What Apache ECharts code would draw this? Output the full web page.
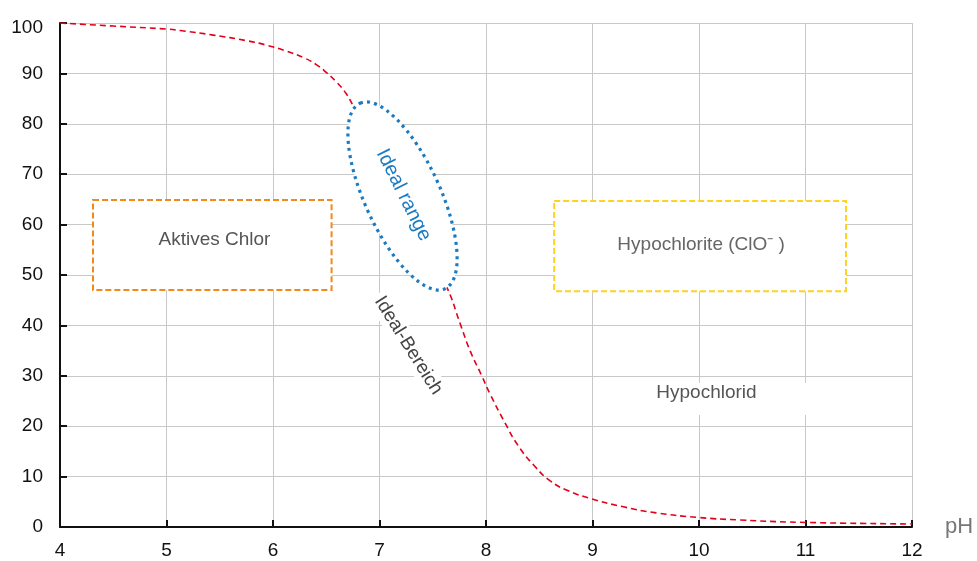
<!DOCTYPE html>
<html>
<head>
<meta charset="utf-8">
<script src="https://cdn.jsdelivr.net/npm/echarts@6/dist/echarts.min.js"></script>
<style>html,body{margin:0;padding:0;background:#fff}#c{width:977px;height:561px}</style>
</head>
<body>
<div id="c"></div>
<script>
// pH values and % of active chlorine (HOCl)
const phValues = [4, 4.5, 5, 5.13, 5.44, 5.75, 5.94, 6.13, 6.29, 6.41, 6.50, 6.60, 6.69, 6.75, 7.0, 7.3, 7.5, 7.63, 7.76, 7.85, 7.96, 8.04, 8.18, 8.30, 8.46, 8.60, 8.76, 8.99, 9.29, 9.60, 9.99, 10.38, 10.95, 12];
const hoclPercent = [100, 99.4, 98.8, 98.5, 97.6, 96.5, 95.6, 94.4, 93.1, 91.7, 90.2, 88.2, 85.9, 83.7, 75, 62, 52.5, 47.7, 40.2, 35.0, 30.0, 26.3, 20.6, 16.2, 12.0, 9.2, 7.3, 5.6, 4.0, 2.8, 1.9, 1.4, 0.93, 0.6];
const xTicks = [4, 5, 6, 7, 8, 9, 10, 11, 12];
const yTicks = [0, 10, 20, 30, 40, 50, 60, 70, 80, 90, 100];
const xAxisName = 'pH';

// Annotation texts
const boxLabels = ['Aktives Chlor', 'Hypochlorite (ClO⁻ )'];
const idealRangeLabel = 'Ideal range';
const idealBereichLabel = 'Ideal-Bereich';
const hypochloridLabel = 'Hypochlorid';

// Annotation anchors in data units [pH, %]
const boxCorners = [[4.31, 64.9, 6.55, 47.0], [8.64, 64.7, 11.38, 46.8]];
const boxTextAnchors = [[5.45, 56.9], [10.02, 55.9]];
const ellipseAxisEnds = [[6.817, 84.07], [7.615, 47.28]];
const idealBereichAnchor = [7.27, 36.0];
const hypochloridBox = [9.45, 28.6, 11.99, 22.2];
const hypochloridAnchor = [10.07, 26.6];

const chart = echarts.init(document.getElementById('c'), null, {renderer: 'canvas'});
const FONT = '"Liberation Sans", Arial, Helvetica, sans-serif';

function pairSeries() {
  return phValues.map((p, i) => [p, hoclPercent[i]]);
}

function renderAnnotations(params, api) {
  const children = [];
  const boxColors = ['#F08A1D', '#FFD21F'];
  const textColors = ['#555', '#666'];
  // Hypochlorid white background
  const h1 = api.coord([hypochloridBox[0], hypochloridBox[1]]);
  const h2 = api.coord([hypochloridBox[2], hypochloridBox[3]]);
  children.push({type: 'rect', shape: {x: h1[0], y: h1[1], width: h2[0] - h1[0], height: h2[1] - h1[1]}, style: {fill: '#fff'}});
  const ha = api.coord(hypochloridAnchor);
  children.push({type: 'text', x: ha[0], y: ha[1], style: {text: hypochloridLabel, x: 0, y: 0, align: 'center', verticalAlign: 'middle', fill: '#555', font: '19px ' + FONT}});
  // boxes
  boxCorners.forEach((b, i) => {
    const p1 = api.coord([b[0], b[1]]);
    const p2 = api.coord([b[2], b[3]]);
    children.push({type: 'rect', shape: {x: p1[0], y: p1[1], width: p2[0] - p1[0], height: p2[1] - p1[1]},
      style: {fill: '#fff', stroke: boxColors[i], lineWidth: 2, lineDash: [6, 3]}});
    const t = api.coord(boxTextAnchors[i]);
    children.push({type: 'text', x: t[0], y: t[1], style: {text: boxLabels[i], x: 0, y: 0, align: 'center', verticalAlign: 'middle', fill: textColors[i], font: '19px ' + FONT}});
  });
  // Ideal-Bereich rotated label with white background
  const ib = api.coord(idealBereichAnchor);
  children.push({type: 'text', x: ib[0], y: ib[1], rotation: -58 * Math.PI / 180,
    style: {text: idealBereichLabel, x: 0, y: 0, align: 'center', verticalAlign: 'middle', fill: '#444', font: '19px ' + FONT, backgroundColor: '#fff', padding: [2, 4]}});
  // ellipse
  const e1 = api.coord(ellipseAxisEnds[0]);
  const e2 = api.coord(ellipseAxisEnds[1]);
  const cx = (e1[0] + e2[0]) / 2, cy = (e1[1] + e2[1]) / 2;
  const a = Math.hypot(e2[0] - e1[0], e2[1] - e1[1]) / 2;
  const phi = Math.atan2(e2[1] - e1[1], e2[0] - e1[0]);
  const b = a * 0.37;
  children.push({type: 'ellipse', x: cx, y: cy, rotation: -phi, shape: {cx: 0, cy: 0, rx: a, ry: b},
    style: {fill: '#fff', stroke: '#1A7AC2', lineWidth: 3.2, lineDash: [3, 4.2]}});
  children.push({type: 'text', x: cx + 1, y: cy - 1, rotation: -63.5 * Math.PI / 180,
    style: {text: idealRangeLabel, x: 0, y: 0, align: 'center', verticalAlign: 'middle', fill: '#1A7AC2', font: '20px ' + FONT}});
  return {type: 'group', children: children};
}

chart.setOption({
  animation: false,
  backgroundColor: '#fff',
  grid: {left: 60, right: 65, top: 23, bottom: 34, containLabel: false},
  xAxis: {
    type: 'value', min: xTicks[0], max: xTicks[xTicks.length - 1], interval: 1,
    name: xAxisName, nameLocation: 'end', nameGap: 33,
    nameTextStyle: {color: '#777', fontSize: 22, fontFamily: FONT, verticalAlign: 'middle', padding: [0, 0, 4, 0]},
    axisLine: {show: true, onZero: false, lineStyle: {color: '#111', width: 2}},
    axisTick: {show: true, inside: true, length: 7, lineStyle: {color: '#111', width: 2}},
    axisLabel: {color: '#111', fontSize: 19, fontFamily: FONT, margin: 14},
    splitLine: {show: true, lineStyle: {color: '#C8C8C8', width: 1}}
  },
  yAxis: {
    type: 'value', min: yTicks[0], max: yTicks[yTicks.length - 1], interval: 10,
    axisLine: {show: true, lineStyle: {color: '#111', width: 2}},
    axisTick: {show: true, inside: true, length: 7, lineStyle: {color: '#111', width: 2}},
    axisLabel: {
      color: '#111', fontSize: 19, fontFamily: FONT, margin: 17,
      formatter: v => v === yTicks[yTicks.length - 1] ? '{t|' + v + '}' : String(v),
      rich: {t: {color: '#111', fontSize: 19, fontFamily: FONT, padding: [9, 0, 0, 0]}}
    },
    splitLine: {show: true, lineStyle: {color: '#C8C8C8', width: 1}}
  },
  series: [
    {
      type: 'line', data: pairSeries(), smooth: 0.5, symbol: 'none', z: 2,
      lineStyle: {color: '#E2001A', width: 1.6, type: [6, 4]}
    },
    {
      type: 'custom', data: [[0]], z: 5, clip: false, silent: true,
      renderItem: renderAnnotations
    }
  ]
});
</script>
</body>
</html>
